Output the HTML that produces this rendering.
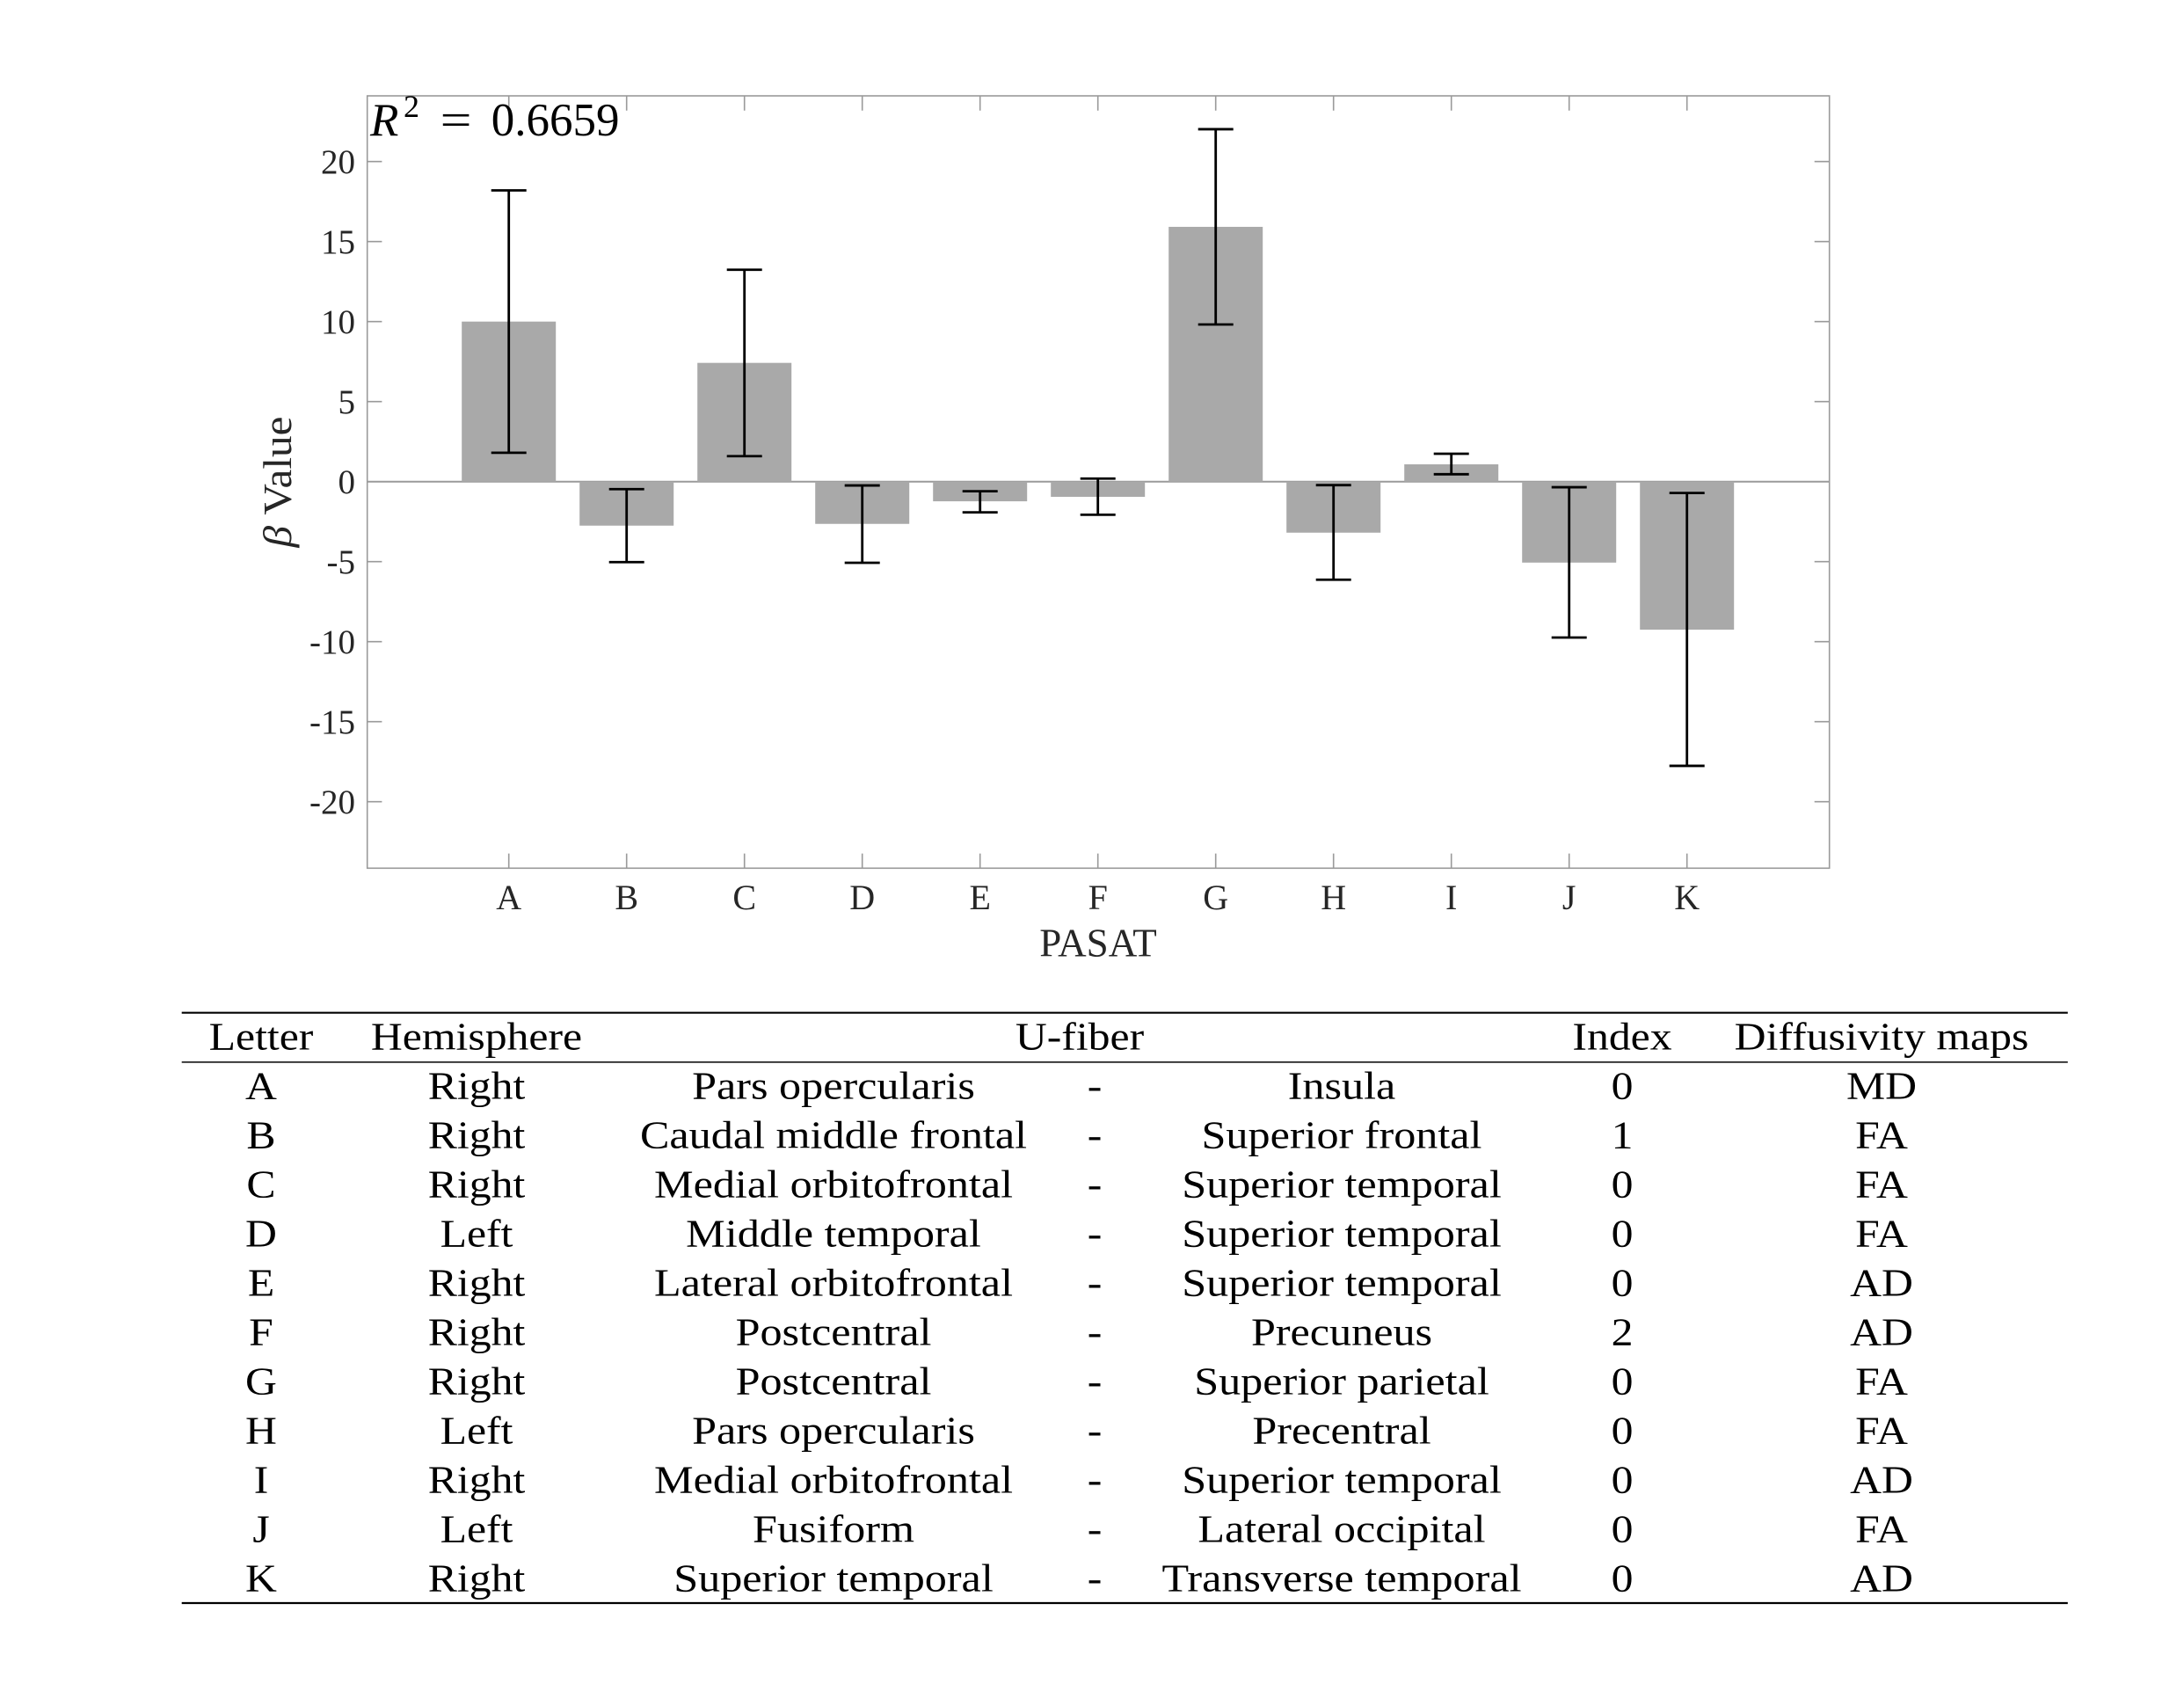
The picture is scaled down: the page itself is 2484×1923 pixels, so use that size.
<!DOCTYPE html>
<html>
<head>
<meta charset="utf-8">
<style>
html,body{margin:0;padding:0;background:#fff;}
svg{display:block;}
text{font-family:"Liberation Serif",serif;}
</style>
</head>
<body>
<svg width="2484" height="1923" viewBox="0 0 2484 1923" xmlns="http://www.w3.org/2000/svg">
<rect x="0" y="0" width="2484" height="1923" fill="#fff"/>

<!-- zero line -->
<line x1="417.7" y1="547.7" x2="2080.7" y2="547.7" stroke="#9a9a9a" stroke-width="2"/>

<!-- bars -->
<g fill="#a9a9a9">
<rect x="525.2" y="365.7" width="107" height="182"/>
<rect x="659.2" y="547.7" width="107" height="50.05"/>
<rect x="793.2" y="412.66" width="107" height="135.04"/>
<rect x="927.2" y="547.7" width="107" height="48.05"/>
<rect x="1061.2" y="547.7" width="107" height="22.39"/>
<rect x="1195.2" y="547.7" width="107" height="17.29"/>
<rect x="1329.2" y="257.96" width="107" height="289.74"/>
<rect x="1463.2" y="547.7" width="107" height="58.06"/>
<rect x="1597.2" y="528.04" width="107" height="19.66"/>
<rect x="1731.2" y="547.7" width="107" height="92.09"/>
<rect x="1865.2" y="547.7" width="107" height="168.35"/>
</g>

<!-- error bars -->
<g stroke="#000" stroke-width="2.8" fill="none">
<path d="M578.7 216.5V514.9M558.7 216.5H598.7M558.7 514.9H598.7"/>
<path d="M712.7 556.25V639.25M692.7 556.25H732.7M692.7 639.25H732.7"/>
<path d="M846.7 306.73V518.76M826.7 306.73H866.7M826.7 518.76H866.7"/>
<path d="M980.7 552.07V639.97M960.7 552.07H1000.7M960.7 639.97H1000.7"/>
<path d="M1114.7 558.62V582.64M1094.7 558.62H1134.7M1094.7 582.64H1134.7"/>
<path d="M1248.7 544.24V585.37M1228.7 544.24H1268.7M1228.7 585.37H1268.7"/>
<path d="M1382.7 146.94V368.98M1362.7 146.94H1402.7M1362.7 368.98H1402.7"/>
<path d="M1516.7 551.7V659.27M1496.7 551.7H1536.7M1496.7 659.27H1536.7"/>
<path d="M1650.7 516.03V539.33M1630.7 516.03H1670.7M1630.7 539.33H1670.7"/>
<path d="M1784.7 554.07V724.97M1764.7 554.07H1804.7M1764.7 724.97H1804.7"/>
<path d="M1918.7 560.62V870.93M1898.7 560.62H1938.7M1898.7 870.93H1938.7"/>
</g>

<!-- axes box -->
<rect x="417.7" y="109" width="1663" height="878.3" fill="none" stroke="#9a9a9a" stroke-width="1.6"/>

<!-- y ticks left & right -->
<g stroke="#9a9a9a" stroke-width="1.6">
<path d="M417.7 183.7h16.7M417.7 274.7h16.7M417.7 365.7h16.7M417.7 456.7h16.7M417.7 638.7h16.7M417.7 729.7h16.7M417.7 820.7h16.7M417.7 911.7h16.7"/>
<path d="M2080.7 183.7h-17M2080.7 274.7h-17M2080.7 365.7h-17M2080.7 456.7h-17M2080.7 638.7h-17M2080.7 729.7h-17M2080.7 820.7h-17M2080.7 911.7h-17"/>
<!-- x ticks bottom & top -->
<path d="M578.7 987.3v-16.7M712.7 987.3v-16.7M846.7 987.3v-16.7M980.7 987.3v-16.7M1114.7 987.3v-16.7M1248.7 987.3v-16.7M1382.7 987.3v-16.7M1516.7 987.3v-16.7M1650.7 987.3v-16.7M1784.7 987.3v-16.7M1918.7 987.3v-16.7"/>
<path d="M578.7 109v16.7M712.7 109v16.7M846.7 109v16.7M980.7 109v16.7M1114.7 109v16.7M1248.7 109v16.7M1382.7 109v16.7M1516.7 109v16.7M1650.7 109v16.7M1784.7 109v16.7M1918.7 109v16.7"/>
</g>

<!-- y tick labels -->
<g font-size="39" fill="#262626" text-anchor="end">
<text x="404" y="197.2">20</text>
<text x="404" y="288.2">15</text>
<text x="404" y="379.2">10</text>
<text x="404" y="470.2">5</text>
<text x="404" y="561.2">0</text>
<text x="404" y="652.2">-5</text>
<text x="404" y="743.2">-10</text>
<text x="404" y="834.2">-15</text>
<text x="404" y="925.2">-20</text>
</g>

<!-- x tick labels -->
<g font-size="40" fill="#262626" text-anchor="middle">
<text x="578.7" y="1034">A</text>
<text x="712.7" y="1034">B</text>
<text x="846.7" y="1034">C</text>
<text x="980.7" y="1034">D</text>
<text x="1114.7" y="1034">E</text>
<text x="1248.7" y="1034">F</text>
<text x="1382.7" y="1034">G</text>
<text x="1516.7" y="1034">H</text>
<text x="1650.7" y="1034">I</text>
<text x="1784.7" y="1034">J</text>
<text x="1918.7" y="1034">K</text>
</g>

<!-- axis labels -->
<text x="1249" y="1087.3" font-size="45" fill="#262626" text-anchor="middle">PASAT</text>
<text transform="translate(331,548) rotate(-90)" font-size="45" fill="#262626" text-anchor="middle" textLength="149" lengthAdjust="spacingAndGlyphs"><tspan font-style="italic">β</tspan> Value</text>

<!-- R^2 annotation -->
<g fill="#000">
<text x="421" y="154" font-size="53" font-style="italic">R</text>
<text x="459" y="133" font-size="36">2</text>
<g transform="translate(518.6,154) scale(1.2,1)"><text x="0" y="0" font-size="53" text-anchor="middle">=</text></g>
<text x="558.7" y="154" font-size="53">0.6659</text>
</g>

<!-- table rules -->
<g stroke="#000">
<line x1="206.7" y1="1151.7" x2="2351.8" y2="1151.7" stroke-width="2.2"/>
<line x1="206.7" y1="1207.9" x2="2351.8" y2="1207.9" stroke-width="1.5"/>
<line x1="206.7" y1="1823" x2="2351.8" y2="1823" stroke-width="2.2"/>
</g>

<!-- table text -->
<g font-size="44" fill="#000" text-anchor="middle">
<g transform="translate(297,0) scale(1.13,1)">
<text x="0" y="1193.6">Letter</text>
<text x="0" y="1249.4">A</text>
<text x="0" y="1305.4">B</text>
<text x="0" y="1361.4">C</text>
<text x="0" y="1417.4">D</text>
<text x="0" y="1473.4">E</text>
<text x="0" y="1529.4">F</text>
<text x="0" y="1585.4">G</text>
<text x="0" y="1641.4">H</text>
<text x="0" y="1697.4">I</text>
<text x="0" y="1753.4">J</text>
<text x="0" y="1809.4">K</text>
</g>
<g transform="translate(542,0) scale(1.13,1)">
<text x="0" y="1193.6">Hemisphere</text>
<text x="0" y="1249.4">Right</text>
<text x="0" y="1305.4">Right</text>
<text x="0" y="1361.4">Right</text>
<text x="0" y="1417.4">Left</text>
<text x="0" y="1473.4">Right</text>
<text x="0" y="1529.4">Right</text>
<text x="0" y="1585.4">Right</text>
<text x="0" y="1641.4">Left</text>
<text x="0" y="1697.4">Right</text>
<text x="0" y="1753.4">Left</text>
<text x="0" y="1809.4">Right</text>
</g>
<g transform="translate(1228,0) scale(1.13,1)">
<text x="0" y="1193.6">U-fiber</text>
</g>
<g transform="translate(948,0) scale(1.14,1)">
<text x="0" y="1249.4">Pars opercularis</text>
<text x="0" y="1305.4">Caudal middle frontal</text>
<text x="0" y="1361.4">Medial orbitofrontal</text>
<text x="0" y="1417.4">Middle temporal</text>
<text x="0" y="1473.4">Lateral orbitofrontal</text>
<text x="0" y="1529.4">Postcentral</text>
<text x="0" y="1585.4">Postcentral</text>
<text x="0" y="1641.4">Pars opercularis</text>
<text x="0" y="1697.4">Medial orbitofrontal</text>
<text x="0" y="1753.4">Fusiform</text>
<text x="0" y="1809.4">Superior temporal</text>
</g>
<g transform="translate(1245,0) scale(1.13,1)">
<text x="0" y="1249.4">-</text>
<text x="0" y="1305.4">-</text>
<text x="0" y="1361.4">-</text>
<text x="0" y="1417.4">-</text>
<text x="0" y="1473.4">-</text>
<text x="0" y="1529.4">-</text>
<text x="0" y="1585.4">-</text>
<text x="0" y="1641.4">-</text>
<text x="0" y="1697.4">-</text>
<text x="0" y="1753.4">-</text>
<text x="0" y="1809.4">-</text>
</g>
<g transform="translate(1526,0) scale(1.14,1)">
<text x="0" y="1249.4">Insula</text>
<text x="0" y="1305.4">Superior frontal</text>
<text x="0" y="1361.4">Superior temporal</text>
<text x="0" y="1417.4">Superior temporal</text>
<text x="0" y="1473.4">Superior temporal</text>
<text x="0" y="1529.4">Precuneus</text>
<text x="0" y="1585.4">Superior parietal</text>
<text x="0" y="1641.4">Precentral</text>
<text x="0" y="1697.4">Superior temporal</text>
<text x="0" y="1753.4">Lateral occipital</text>
<text x="0" y="1809.4">Transverse temporal</text>
</g>
<g transform="translate(1845,0) scale(1.13,1)">
<text x="0" y="1193.6">Index</text>
<text x="0" y="1249.4">0</text>
<text x="0" y="1305.4">1</text>
<text x="0" y="1361.4">0</text>
<text x="0" y="1417.4">0</text>
<text x="0" y="1473.4">0</text>
<text x="0" y="1529.4">2</text>
<text x="0" y="1585.4">0</text>
<text x="0" y="1641.4">0</text>
<text x="0" y="1697.4">0</text>
<text x="0" y="1753.4">0</text>
<text x="0" y="1809.4">0</text>
</g>
<g transform="translate(2140,0) scale(1.13,1)">
<text x="0" y="1193.6">Diffusivity maps</text>
<text x="0" y="1249.4">MD</text>
<text x="0" y="1305.4">FA</text>
<text x="0" y="1361.4">FA</text>
<text x="0" y="1417.4">FA</text>
<text x="0" y="1473.4">AD</text>
<text x="0" y="1529.4">AD</text>
<text x="0" y="1585.4">FA</text>
<text x="0" y="1641.4">FA</text>
<text x="0" y="1697.4">AD</text>
<text x="0" y="1753.4">FA</text>
<text x="0" y="1809.4">AD</text>
</g>
</g>
</svg>
</body>
</html>
